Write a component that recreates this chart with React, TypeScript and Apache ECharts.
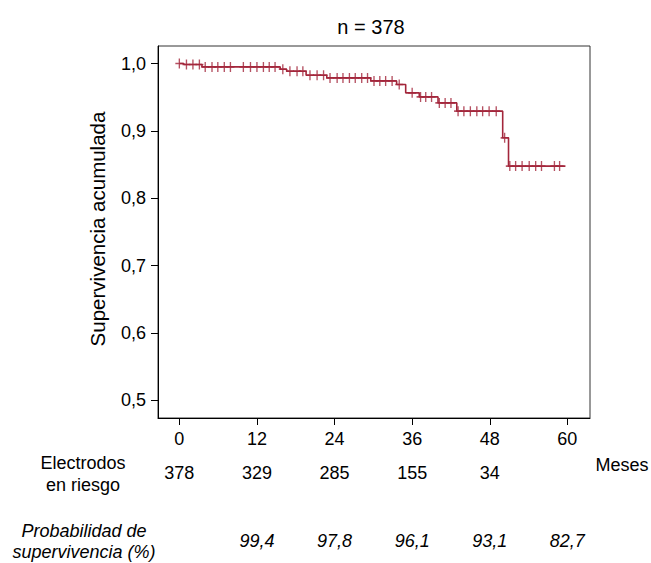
import React, { useEffect, useRef } from "react";
import * as echarts from "echarts";

// Kaplan-Meier step data (months, cumulative survival)
const eventTimes = [0, 0.7, 3.5, 15.6, 16.6, 19.6, 22.8, 29.6, 33.6, 35.0, 37.1, 40.0, 42.9, 50.0, 50.9, 59.7];
const survival = [1.0, 0.9985, 0.995, 0.9916, 0.9886, 0.9827, 0.9787, 0.9742, 0.9689, 0.9565, 0.9505, 0.9416, 0.9293, 0.8898, 0.8478, 0.8478];

// censored observations (months)
const censorTimes = [
  0, 1.1, 2.1, 3.1, 4.0, 5.05, 5.95, 6.95, 7.9, 9.9, 11.0, 12.0, 13.0, 13.9, 14.8,
  16.0, 17.1, 18.2, 19.1, 20.2, 21.3, 22.3, 23.3, 24.4, 25.3, 26.3, 27.2, 28.2, 29.1,
  30.1, 31.0, 31.9, 32.9, 34.0, 36.0, 37.3, 38.1, 39.0, 40.2, 41.1, 42.0, 43.1, 44.0,
  45.0, 46.0, 46.9, 47.9, 49.0, 50.3, 51.1, 52.0, 53.0, 54.1, 55.1, 56.0, 58.0, 58.8,
];

const xTicks = [0, 12, 24, 36, 48, 60];
const yTicks = [0.5, 0.6, 0.7, 0.8, 0.9, 1.0];
const atRiskMonths = [0, 12, 24, 36, 48];
const atRisk = ["378", "329", "285", "155", "34"];
const probMonths = [12, 24, 36, 48, 60];
const probValues = ["99,4", "97,8", "96,1", "93,1", "82,7"];

const TITLE = "n = 378";
const Y_NAME = "Supervivencia acumulada";
const ROW1_LABEL = "Electrodos\nen riesgo";
const ROW2_LABEL = "Probabilidad de\nsupervivencia (%)";
const X_UNIT = "Meses";

const FONT = "'Liberation Sans', Arial, Helvetica, sans-serif";
const RED = "#A3263B";

function survivalAt(t: number): number {
  let s = survival[0];
  for (let i = 0; i < eventTimes.length; i++) {
    if (eventTimes[i] <= t) s = survival[i];
  }
  return s;
}

export default function App() {
  const ref = useRef<HTMLDivElement>(null);
  useEffect(() => {
    if (!ref.current) return;
    const chart = echarts.init(ref.current, null, { renderer: "svg" });
    const xMin = -3.3;
    const xMax = 63.5;
    const hiddenAxis = (offset: number, values: number[], labels: string[], italic: boolean) => ({
      type: "value",
      gridIndex: 0,
      position: "bottom",
      offset,
      min: xMin,
      max: xMax,
      axisLine: { show: false },
      axisTick: { show: false },
      splitLine: { show: false },
      axisLabel: {
        customValues: values,
        formatter: (v: number) => {
          const i = values.findIndex((x) => Math.abs(x - v) < 1e-6);
          return i >= 0 ? labels[i] : "";
        },
        fontSize: 18,
        fontStyle: italic ? "italic" : "normal",
        fontFamily: FONT,
        color: "#000",
        margin: 12,
      },
    });
    chart.setOption({
      animation: false,
      textStyle: { fontFamily: FONT },
      grid: {
        left: 158,
        top: 46,
        width: 432,
        height: 372,
        show: true,
        borderColor: "#333",
        borderWidth: 1,
        containLabel: false,
      },
      xAxis: [
        {
          type: "value",
          min: xMin,
          max: xMax,
          axisLine: { show: true, onZero: false, lineStyle: { color: "#000", width: 1 } },
          axisTick: { show: true, customValues: xTicks, length: 7, lineStyle: { color: "#000" } },
          splitLine: { show: false },
          axisLabel: { customValues: xTicks, fontSize: 18, color: "#000", fontFamily: FONT, margin: 12 },
        },
        hiddenAxis(34, atRiskMonths, atRisk, false),
        hiddenAxis(102, probMonths, probValues, true),
      ],
      yAxis: {
        type: "value",
        min: 0.474,
        max: 1.026,
        axisLine: { show: true, onZero: false, lineStyle: { color: "#000", width: 1 } },
        axisTick: { show: true, customValues: yTicks, length: 7, lineStyle: { color: "#000" } },
        splitLine: { show: false },
        axisLabel: {
          customValues: yTicks,
          formatter: (v: number) => v.toFixed(1).replace(".", ","),
          fontSize: 18,
          color: "#000",
          fontFamily: FONT,
          margin: 12,
        },
      },
      series: [
        {
          type: "line",
          step: "end",
          xAxisIndex: 0,
          data: eventTimes.map((t, i) => [t, survival[i]]),
          showSymbol: false,
          symbol: "none",
          lineStyle: { color: RED, width: 1.6 },
        },
        {
          type: "scatter",
          xAxisIndex: 0,
          data: censorTimes.map((t) => [t, survivalAt(t)]),
          symbol: "path://M4,0 L4,8 M0,4 L8,4",
          symbolSize: [8, 10],
          itemStyle: { color: "transparent", borderColor: RED, borderWidth: 1.5 },
        },
      ],
      graphic: [
        {
          type: "text",
          x: 371,
          y: 27,
          style: { text: TITLE, fontSize: 20, fontFamily: FONT, fill: "#000", align: "center", verticalAlign: "middle" },
        },
        {
          type: "text",
          x: 97,
          y: 229,
          rotation: Math.PI / 2,
          style: { text: Y_NAME, fontSize: 20.5, fontFamily: FONT, fill: "#000", align: "center", verticalAlign: "middle" },
        },
        {
          type: "text",
          x: 83,
          y: 474,
          style: { text: ROW1_LABEL, fontSize: 18, lineHeight: 22, fontFamily: FONT, fill: "#000", align: "center", verticalAlign: "middle" },
        },
        {
          type: "text",
          x: 622,
          y: 465,
          style: { text: X_UNIT, fontSize: 18, fontFamily: FONT, fill: "#000", align: "center", verticalAlign: "middle" },
        },
        {
          type: "text",
          x: 84,
          y: 541,
          style: { text: ROW2_LABEL, fontSize: 18, lineHeight: 21, fontStyle: "italic", fontFamily: FONT, fill: "#000", align: "center", verticalAlign: "middle" },
        },
      ],
    });
    return () => chart.dispose();
  }, []);
  return <div ref={ref} style={{ position: "absolute", left: 0, top: 0, width: 651, height: 563 }} />;
}
